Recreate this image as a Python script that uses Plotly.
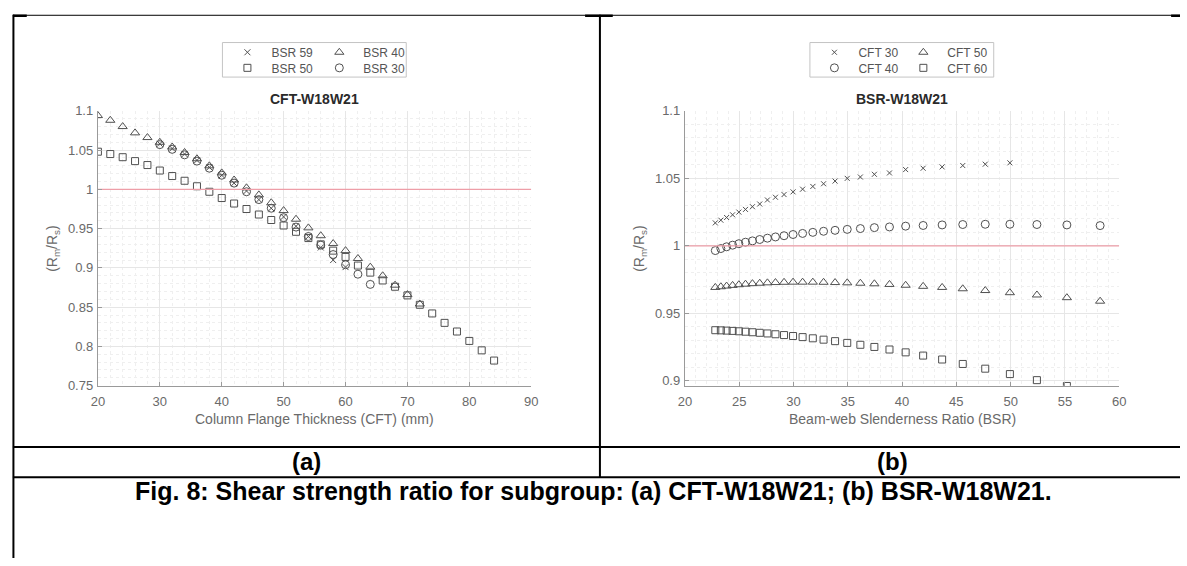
import plotly.graph_objects as go

W, H = 1187, 566


def px(x):
    return x / W


def py(y):
    return 1 - y / H


# ---------------- data: panel (a) CFT-W18W21 ----------------
CFT_X_BSR59 = [30, 32, 34, 36, 38, 40, 42, 44, 46, 48, 50, 52, 54, 56, 58, 60]
CFT_Y_BSR59 = [1.058, 1.052, 1.045, 1.037, 1.028, 1.018, 1.008, 0.998, 0.987, 0.976,
               0.965, 0.953, 0.940, 0.926, 0.910, 0.901]

CFT_X_BSR40 = [20, 22, 24, 26, 28, 30, 32, 34, 36, 38, 40, 42, 44, 46, 48, 50, 52, 54,
               56, 58, 60, 62, 64, 66, 68, 70, 72]
CFT_Y_BSR40 = [1.094, 1.088, 1.080, 1.072, 1.066, 1.060, 1.054, 1.047, 1.039, 1.030,
               1.021, 1.012, 1.002, 0.993, 0.983, 0.973, 0.962, 0.951, 0.941, 0.931,
               0.922, 0.912, 0.901, 0.890, 0.878, 0.866, 0.854]

CFT_X_BSR50 = [20, 22, 24, 26, 28, 30, 32, 34, 36, 38, 40, 42, 44, 46, 48, 50, 52, 54,
               56, 58, 60, 62, 64, 66, 68, 70, 72, 74, 76, 78, 80, 82, 84]
CFT_Y_BSR50 = [1.048, 1.045, 1.041, 1.036, 1.031, 1.024, 1.017, 1.011, 1.004, 0.997,
               0.989, 0.982, 0.975, 0.968, 0.961, 0.954, 0.946, 0.938, 0.930, 0.922,
               0.914, 0.903, 0.894, 0.884, 0.876, 0.865, 0.853, 0.842, 0.830, 0.819,
               0.807, 0.795, 0.782]

CFT_X_BSR30 = [30, 32, 34, 36, 38, 40, 42, 44, 46, 48, 50, 52, 54, 56, 58, 60, 62, 64]
CFT_Y_BSR30 = [1.057, 1.051, 1.044, 1.036, 1.027, 1.018, 1.008, 0.997, 0.987, 0.976,
               0.964, 0.952, 0.940, 0.929, 0.917, 0.904, 0.892, 0.879]

# ---------------- data: panel (b) BSR-W18W21 ----------------
BSR_X = [22.80, 23.31, 23.84, 24.39, 24.97, 25.58, 26.22, 26.89, 27.60, 28.34, 29.13,
         29.96, 30.84, 31.78, 32.77, 33.83, 34.95, 36.16, 37.45, 38.84, 40.33, 41.94,
         43.69, 45.59, 47.66, 49.93, 52.42, 55.18, 58.24]

BSR_Y_CFT30 = [1.017, 1.019, 1.021, 1.023, 1.025, 1.027, 1.029, 1.031, 1.034, 1.036,
               1.038, 1.040, 1.042, 1.044, 1.046, 1.048, 1.050, 1.051, 1.053, 1.054,
               1.0565, 1.0575, 1.0585, 1.0595, 1.0605, 1.0615]
BSR_Y_CFT40 = [0.9965, 0.998, 0.9993, 1.0005, 1.0016, 1.0027, 1.0037, 1.0047, 1.0057,
               1.0066, 1.0075, 1.0084, 1.0092, 1.0100, 1.0108, 1.0115, 1.0122, 1.0128,
               1.0135, 1.0140, 1.0146, 1.0151, 1.0155, 1.0158, 1.0160, 1.0160, 1.0158,
               1.0155, 1.0150]
BSR_Y_CFT50 = [0.9692, 0.9697, 0.9702, 0.9707, 0.9712, 0.9716, 0.9720, 0.9723, 0.9726,
               0.9728, 0.9730, 0.9731, 0.9731, 0.9731, 0.9730, 0.9728, 0.9726, 0.9723,
               0.9719, 0.9714, 0.9708, 0.9700, 0.9692, 0.9682, 0.9669, 0.9653, 0.9636,
               0.9616, 0.9590]
BSR_Y_CFT60 = [0.9375, 0.9374, 0.9372, 0.9370, 0.9367, 0.9364, 0.9360, 0.9356, 0.9351,
               0.9345, 0.9339, 0.9332, 0.9324, 0.9315, 0.9305, 0.9294, 0.9281, 0.9267,
               0.9251, 0.9232, 0.9211, 0.9187, 0.9158, 0.9125, 0.9090, 0.9050, 0.9005,
               0.8962]

REF_RATIO = 1.0

A_XTICKS = [20, 30, 40, 50, 60, 70, 80, 90]
A_YTICKS = [0.75, 0.8, 0.85, 0.9, 0.95, 1.0, 1.05, 1.1]
A_YTICKTEXT = ["0.75", "0.8", "0.85", "0.9", "0.95", "1", "1.05", "1.1"]
A_XRANGE = [20, 90]
A_YRANGE = [0.75, 1.1]

B_XTICKS = [20, 25, 30, 35, 40, 45, 50, 55, 60]
B_YTICKS = [0.9, 0.95, 1.0, 1.05, 1.1]
B_YTICKTEXT = ["0.9", "0.95", "1", "1.05", "1.1"]
B_XRANGE = [20, 60]
B_YRANGE = [0.8964, 1.1]

MK = "#505050"
FONT = "Liberation Sans, Arial, sans-serif"

fig = go.Figure()

# (name, x, y, symbol, size, panel, legend marker x px, legend row y px)
series = [
    ("BSR 59", CFT_X_BSR59, CFT_Y_BSR59, "x-thin-open", 6, "a", 243, 46.5),
    ("BSR 40", CFT_X_BSR40, CFT_Y_BSR40, "triangle-up-open", 8, "a", 336, 46.5),
    ("BSR 50", CFT_X_BSR50, CFT_Y_BSR50, "square-open", 7, "a", 243, 62.5),
    ("BSR 30", CFT_X_BSR30, CFT_Y_BSR30, "circle-open", 8, "a", 336, 62.5),
    ("CFT 30", BSR_X[:len(BSR_Y_CFT30)], BSR_Y_CFT30, "x-thin-open", 5, "b", 837, 46.5),
    ("CFT 50", BSR_X[:len(BSR_Y_CFT50)], BSR_Y_CFT50, "triangle-up-open", 8, "b", 927, 46.5),
    ("CFT 40", BSR_X[:len(BSR_Y_CFT40)], BSR_Y_CFT40, "circle-open", 8, "b", 837, 62.5),
    ("CFT 60", BSR_X[:len(BSR_Y_CFT60)], BSR_Y_CFT60, "square-open", 7, "b", 927, 62.5),
]

legend_layouts = {}
for i, (name, xs, ys, sym, size, panel, lmx, lmy) in enumerate(series):
    lname = "legend" if i == 0 else f"legend{i + 1}"
    fig.add_trace(go.Scatter(
        x=xs, y=ys, mode="markers", name=name,
        marker=dict(symbol=sym, size=size, color=MK, line=dict(color=MK, width=1)),
        xaxis="x" if panel == "a" else "x2",
        yaxis="y" if panel == "a" else "y2",
        legend=lname, showlegend=True,
    ))
    legend_layouts[lname] = dict(
        x=px(lmx - 24), y=py(lmy), xanchor="left", yanchor="middle",
        bgcolor="rgba(0,0,0,0)", borderwidth=0, itemwidth=38,
        font=dict(family=FONT, size=12, color="#555555"),
        itemclick=False, itemdoubleclick=False,
    )

# reference line at ratio = 1
fig.add_trace(go.Scatter(x=A_XRANGE, y=[REF_RATIO, REF_RATIO], mode="lines",
                         line=dict(color="#ee9ea8", width=1.2), showlegend=False,
                         hoverinfo="skip", xaxis="x", yaxis="y"))
fig.add_trace(go.Scatter(x=B_XRANGE, y=[REF_RATIO, REF_RATIO], mode="lines",
                         line=dict(color="#ee9ea8", width=1.2), showlegend=False,
                         hoverinfo="skip", xaxis="x2", yaxis="y2"))

AX_COL = "#9a9a9a"
TICK_FONT = dict(family=FONT, size=13, color="#6a6a6a")


def axis(domain, rng, tickvals, ticktext, minor_dtick, anchor, standoff):
    return dict(
        domain=domain, range=rng, tickvals=tickvals, ticktext=ticktext,
        showline=True, linecolor=AX_COL, linewidth=1.2, mirror=False,
        ticks="inside", ticklen=4, tickcolor=AX_COL, tickwidth=1,
        showgrid=True, gridcolor="#e6e6e6", gridwidth=1, zeroline=False,
        minor=dict(dtick=minor_dtick, showgrid=True, gridcolor="#efefef",
                   griddash="dot", ticks=""),
        tickfont=TICK_FONT, anchor=anchor, fixedrange=True,
        ticklabelstandoff=standoff,
    )


y_dom = [py(389), py(106.7)]
layout = dict(
    width=W, height=H, margin=dict(l=0, r=0, t=0, b=0),
    paper_bgcolor="white", plot_bgcolor="white",
    xaxis=axis([px(92), px(530.5)], A_XRANGE, A_XTICKS, [str(v) for v in A_XTICKS], 2, "y", 4),
    yaxis=axis(y_dom, A_YRANGE, A_YTICKS, A_YTICKTEXT, 0.01, "x", 1),
    xaxis2=axis([px(686), px(1125.5)], B_XRANGE, B_XTICKS, [str(v) for v in B_XTICKS], 1, "y2", 4),
    yaxis2=axis(y_dom, B_YRANGE, B_YTICKS, B_YTICKTEXT, 0.01, "x2", 1),
    font=dict(family=FONT),
)
layout.update(legend_layouts)
fig.update_layout(**layout)


def ann(text, x, y, size, color, bold=False, angle=0):
    fig.add_annotation(
        text=f"<b>{text}</b>" if bold else text, x=px(x), y=py(y),
        xref="paper", yref="paper", showarrow=False, textangle=angle,
        xanchor="center", yanchor="middle",
        font=dict(family=FONT, size=size, color=color),
    )


ann("CFT-W18W21", 311, 95, 14, "#2a2a2a", bold=True)
ann("BSR-W18W21", 906, 95, 14, "#2a2a2a", bold=True)
ann("Column Flange Thickness (CFT) (mm)", 311, 423, 14, "#6a6a6a")
ann("Beam-web Slenderness Ratio (BSR)", 906, 423, 14, "#6a6a6a")
ann("(R<sub>m</sub>/R<sub>s</sub>)", 47, 248, 14, "#6a6a6a", angle=-90)
ann("(R<sub>m</sub>/R<sub>s</sub>)", 641, 248, 14, "#6a6a6a", angle=-90)
ann("(a)", 303, 467, 24, "#000000", bold=True)
ann("(b)", 896, 467, 24, "#000000", bold=True)
ann("Fig. 8: Shear strength ratio for subgroup: (a) CFT-W18W21; (b) BSR-W18W21.",
    594, 497, 25, "#000000", bold=True)


def hline(x0, x1, y, w, color="black"):
    fig.add_shape(type="line", xref="paper", yref="paper", x0=px(x0), x1=px(x1),
                  y0=py(y), y1=py(y), line=dict(color=color, width=w))


def vline(x, y0, y1, w, color="black"):
    fig.add_shape(type="line", xref="paper", yref="paper", x0=px(x), x1=px(x),
                  y0=py(y0), y1=py(y1), line=dict(color=color, width=w))


# legend frames
for (l, r) in [(218, 404), (812.5, 998.5)]:
    fig.add_shape(type="rect", xref="paper", yref="paper", x0=px(l), x1=px(r),
                  y0=py(72), y1=py(36.5), line=dict(color="#c4c4c4", width=1),
                  fillcolor="rgba(0,0,0,0)")

# table borders
hline(6, 1187, 8.5, 1)
hline(6, 20, 9, 2.5)
hline(585, 613, 9, 2.5)
hline(1178, 1187, 9, 2.5)
vline(6.5, 8, 566, 2)
vline(600, 8, 483, 2)
hline(6, 1187, 452, 2)
hline(6, 1187, 483, 2)

fig.write_html("out.html",
               post_script="document.body.style.margin='0px';"
                           "document.body.style.overflow='hidden';")
